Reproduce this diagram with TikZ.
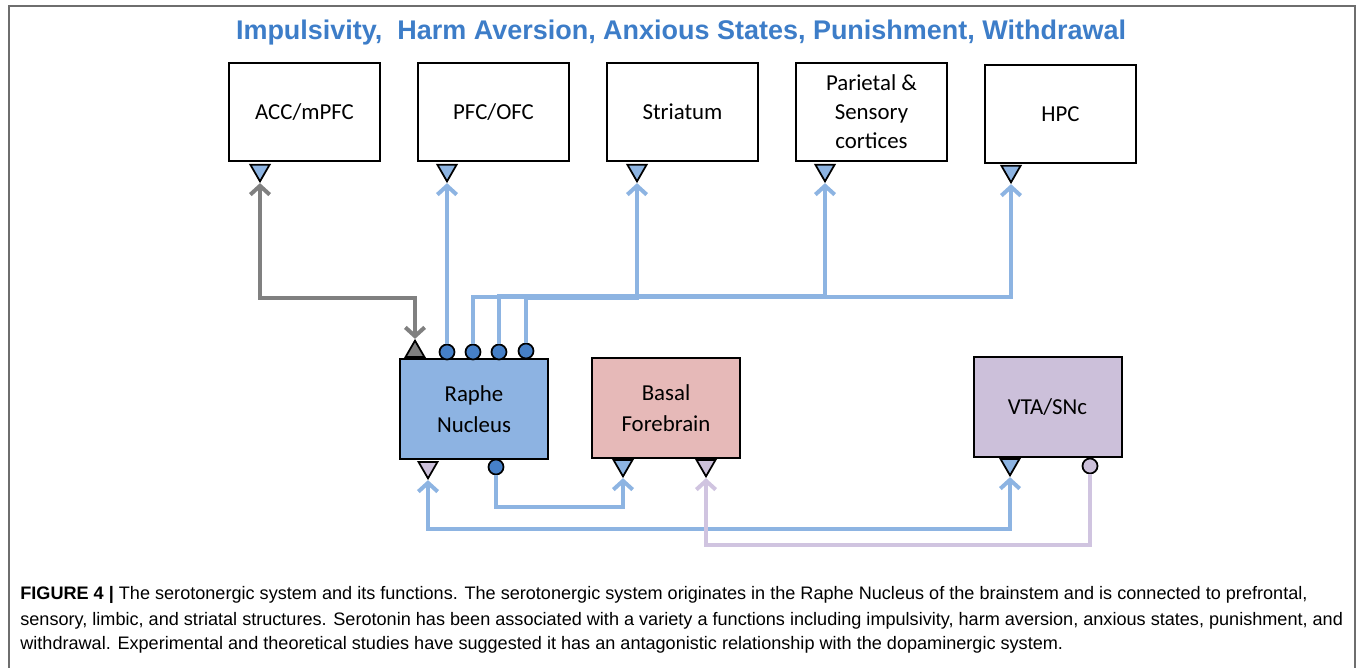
\documentclass[tikz,border=0pt]{standalone}
\usepackage{fontspec}
\setmainfont{Carlito}
\newfontfamily\titlefont{Liberation Sans}
\newfontfamily\capfont{Liberation Sans}
\usetikzlibrary{shapes.geometric,arrows.meta}

\definecolor{lineblue}{RGB}{141,180,226}
\definecolor{dotblue}{RGB}{70,128,200}
\definecolor{raphefill}{RGB}{141,179,226}
\definecolor{basalfill}{RGB}{230,185,184}
\definecolor{vtafill}{RGB}{204,192,218}
\definecolor{linepurple}{RGB}{208,196,224}
\definecolor{linegray}{RGB}{128,128,128}
\definecolor{titleblue}{RGB}{61,125,200}
\definecolor{framegray}{RGB}{110,110,110}

\tikzset{
    region/.style={draw, line width=0.055cm, minimum width=3.02cm, minimum height=1.96cm,
        align=center, font=\fontsize{13}{16.5}\selectfont},
    nucleus/.style={draw, line width=0.04cm, minimum width=2.96cm, minimum height=2.02cm,
        align=center, font=\fontsize{13}{17.6}\selectfont},
    termin/.style={regular polygon, regular polygon sides=3, shape border rotate=180,
        draw, line width=0.035cm, inner sep=0pt, minimum size=0.44cm, anchor=north},
    termup/.style={regular polygon, regular polygon sides=3,
        draw, line width=0.035cm, inner sep=0pt, minimum size=0.44cm, anchor=south},
    termout/.style={circle, draw, line width=0.035cm, inner sep=0pt, minimum size=0.3cm},
    link/.style={line width=0.08cm},
    captext/.style={anchor=west, inner sep=0pt, font=\capfont\fontsize{10.3}{12}\selectfont}
}

\begin{document}
\begin{tikzpicture}[x=0.02cm, y=-0.02cm, >={Straight Barb[length=5pt,width=11pt]}]
    \useasboundingbox (0,0) rectangle (1358,668);

    % Frame
    \draw[framegray, line width=0.03cm] (9,668) -- (9,6) -- (1355,6) -- (1355,668);

    % Title
    \node[font=\titlefont\bfseries\fontsize{15.35}{18}\selectfont, text=titleblue] (title) at (681,33)
        {Impulsivity,\ \ Harm Aversion, Anxious States, Punishment, Withdrawal};

    % Target regions
    \node[region] (acc) at (304.5,112) {ACC/mPFC};
    \node[region] (pfc) at (493.5,112) {PFC/OFC};
    \node[region] (str) at (682.5,112) {Striatum};
    \node[region] (par) at (871.5,112) {Parietal \&\\Sensory\\cortices};
    \node[region] (hpc) at (1060.5,114) {HPC};

    \node[termin, fill=lineblue] (accin) at (260,164) {};
    \node[termin, fill=lineblue] (pfcin) at (447,164) {};
    \node[termin, fill=lineblue] (strin) at (637,164) {};
    \node[termin, fill=lineblue] (parin) at (825,164) {};
    \node[termin, fill=lineblue] (hpcin) at (1011,165) {};

    % Raphe nucleus
    \node[nucleus, fill=raphefill] (raphe) at (474,409) {Raphe\\Nucleus};
    \node[termup, fill=linegray] (raphein) at (415,358) {};
    \node[termout, fill=dotblue] (rout1) at (447,352) {};
    \node[termout, fill=dotblue] (rout2) at (473,352) {};
    \node[termout, fill=dotblue] (rout3) at (499,352) {};
    \node[termout, fill=dotblue] (rout4) at (526,351) {};
    \node[termin, fill=vtafill] (raphedown) at (428,461) {};
    \node[termout, fill=dotblue] (rout5) at (496,467) {};

    % Basal forebrain
    \node[nucleus, fill=basalfill] (basal) at (666,408) {Basal\\Forebrain};
    \node[termin, fill=lineblue] (basalin1) at (623,459) {};
    \node[termin, fill=vtafill] (basalin2) at (706,459) {};

    % VTA/SNc
    \node[nucleus, fill=vtafill] (vta) at (1047.5,407) {VTA/SNc};
    \node[termin, fill=lineblue] (vtain) at (1010,458) {};
    \node[termout, fill=vtafill] (vtaout) at (1090,466) {};

    % Projections
    \draw[link, linegray, <->] (accin.south) -- ++(0,115) -| (raphein.north);
    \draw[link, lineblue, ->] (rout1.north) -- (pfcin.south);
    \draw[link, lineblue, ->] (rout2.north) -- ++(0,-47) -| (hpcin.south);
    \draw[link, lineblue, ->] (rout3.north) -- ++(0,-48) -| (parin.south);
    \draw[link, lineblue, ->] (rout4.north) -- ++(0,-45) -| (strin.south);
    \draw[link, lineblue, ->] (rout5.south) -- ++(0,32) -| (basalin1.south);
    \draw[link, lineblue, <->] (raphedown.south) -- ++(0,49) -| (vtain.south);
    \draw[link, linepurple, ->] (vtaout.south) -- ++(0,71) -| (basalin2.south);

    % Caption
    \node[captext] (cap1) at (20,595) {\textbf{FIGURE 4 |} The serotonergic system and its functions. The serotonergic system originates in the Raphe Nucleus of the brainstem and is connected to prefrontal,};
    \node[captext] (cap2) at (20,621) {sensory, limbic, and striatal structures. Serotonin has been associated with a variety a functions including impulsivity, harm aversion, anxious states, punishment, and};
    \node[captext] (cap3) at (20,645) {withdrawal. Experimental and theoretical studies have suggested it has an antagonistic relationship with the dopaminergic system.};
\end{tikzpicture}
\end{document}
